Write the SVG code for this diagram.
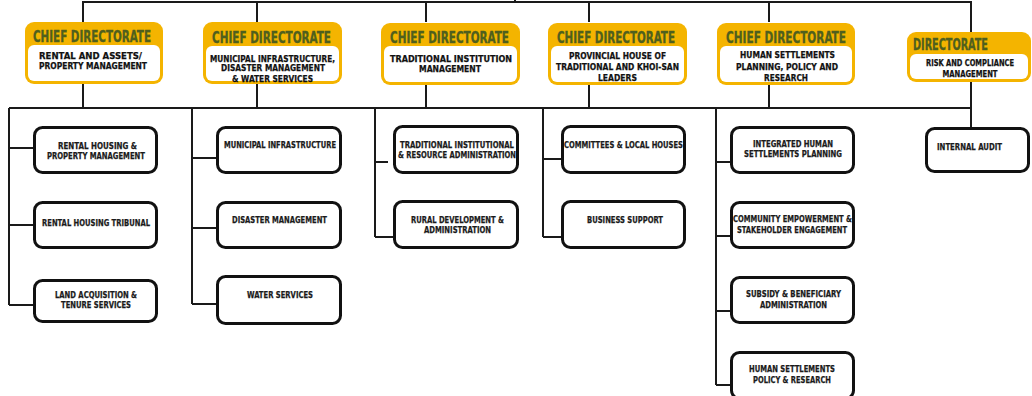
<svg xmlns="http://www.w3.org/2000/svg" width="1032" height="396" viewBox="0 0 1032 396">
<style>
.conn{fill:none;stroke:#1a1a1a;stroke-width:2}
.hy{fill:#f4b400}
.hw{fill:#ffffff}
.box{fill:#ffffff;stroke:#111;stroke-width:3}
text{font-family:"Liberation Sans Narrow","DejaVu Sans Condensed","Liberation Sans",sans-serif;font-weight:bold;text-anchor:middle}
.t{font-size:15px;fill:#4f5f1e;stroke:#4f5f1e;stroke-width:0.3}
.s{font-size:9.5px;fill:#111;stroke:#111;stroke-width:0.25}
.c{font-size:9.5px;fill:#1a1a1a;stroke:#1a1a1a;stroke-width:0.25}
</style>
<rect width="1032" height="396" fill="#ffffff"/>
<g id="connectors">
<path class="conn" d="M83,22 V2 H971 V32 M515,0 V2 M257,2 V22 M426,2 V22 M589,2 V22 M769,2 V22"/>
<path class="conn" d="M83,84 V108 M257,84 V108 M426,84 V108 M589,84 V108 M769,84 V108 M971,82 V127 M9,108 H971"/>
<path class="conn" d="M9,108 V305 M9,148 H33 M9,225 H33 M9,305 H33"/>
<path class="conn" d="M192,108 V304 M192,158 H216 M192,228 H216 M192,304 H216"/>
<path class="conn" d="M375,108 V237 M375,162 H388 M375,237 H393"/>
<path class="conn" d="M543,108 V237 M543,159 H561 M543,237 H561"/>
<path class="conn" d="M716,108 V385 M716,162 H730 M716,236 H730 M716,311 H730 M716,385 H730"/>
</g>
<g id="cd1">
<rect class="hy" x="25" y="22" width="138" height="62" rx="9"/>
<rect class="hw" x="28" y="45" width="132" height="36" rx="6"/>
<text class="t" x="92" y="42" textLength="118" lengthAdjust="spacingAndGlyphs">CHIEF DIRECTORATE</text>
<text class="s" x="90.5" y="59" textLength="103" lengthAdjust="spacingAndGlyphs">RENTAL AND ASSETS/</text>
<text class="s" x="93" y="69" textLength="108" lengthAdjust="spacingAndGlyphs">PROPERTY MANAGEMENT</text>
</g>
<g id="cd2">
<rect class="hy" x="203" y="22" width="139" height="62" rx="9"/>
<rect class="hw" x="206" y="46" width="133" height="35" rx="6"/>
<text class="t" x="271.5" y="42.5" textLength="119" lengthAdjust="spacingAndGlyphs">CHIEF DIRECTORATE</text>
<text class="s" x="272.5" y="61.5" textLength="125" lengthAdjust="spacingAndGlyphs">MUNICIPAL INFRASTRUCTURE,</text>
<text class="s" x="273" y="71" textLength="104" lengthAdjust="spacingAndGlyphs">DISASTER MANAGEMENT</text>
<text class="s" x="272.5" y="81.5" textLength="81" lengthAdjust="spacingAndGlyphs">&amp; WATER SERVICES</text>
</g>
<g id="cd3">
<rect class="hy" x="381" y="23" width="139" height="62" rx="9"/>
<rect class="hw" x="384" y="46" width="133" height="36" rx="6"/>
<text class="t" x="449.5" y="42.5" textLength="119" lengthAdjust="spacingAndGlyphs">CHIEF DIRECTORATE</text>
<text class="s" x="451" y="62" textLength="122" lengthAdjust="spacingAndGlyphs">TRADITIONAL INSTITUTION</text>
<text class="s" x="450" y="72" textLength="62" lengthAdjust="spacingAndGlyphs">MANAGEMENT</text>
</g>
<g id="cd4">
<rect class="hy" x="548" y="23" width="139" height="62" rx="9"/>
<rect class="hw" x="551" y="46" width="133" height="36" rx="6"/>
<text class="t" x="616" y="42.5" textLength="118" lengthAdjust="spacingAndGlyphs">CHIEF DIRECTORATE</text>
<text class="s" x="617.5" y="59" textLength="97" lengthAdjust="spacingAndGlyphs">PROVINCIAL HOUSE OF</text>
<text class="s" x="617.5" y="70" textLength="123" lengthAdjust="spacingAndGlyphs">TRADITIONAL AND KHOI-SAN</text>
<text class="s" x="617.5" y="81" textLength="39" lengthAdjust="spacingAndGlyphs">LEADERS</text>
</g>
<g id="cd5">
<rect class="hy" x="717" y="23" width="138" height="62" rx="9"/>
<rect class="hw" x="720" y="46" width="132" height="36" rx="6"/>
<text class="t" x="786" y="42.5" textLength="120" lengthAdjust="spacingAndGlyphs">CHIEF DIRECTORATE</text>
<text class="s" x="787.5" y="58" textLength="95" lengthAdjust="spacingAndGlyphs">HUMAN SETTLEMENTS</text>
<text class="s" x="787" y="69.5" textLength="102" lengthAdjust="spacingAndGlyphs">PLANNING, POLICY AND</text>
<text class="s" x="786" y="81" textLength="44" lengthAdjust="spacingAndGlyphs">RESEARCH</text>
</g>
<g id="dir">
<rect class="hy" x="907" y="32" width="124" height="50" rx="9"/>
<rect class="hw" x="910" y="54" width="118" height="25" rx="6"/>
<text class="t" x="913" y="50" textLength="75" lengthAdjust="spacingAndGlyphs" style="text-anchor:start">DIRECTORATE</text>
<text class="s" x="970" y="66" textLength="88" lengthAdjust="spacingAndGlyphs" style="font-size:8.8px">RISK AND COMPLIANCE</text>
<text class="s" x="970" y="77" textLength="55" lengthAdjust="spacingAndGlyphs">MANAGEMENT</text>
</g>
<g id="c1b1"><rect class="box" x="34.5" y="127.5" width="122" height="45" rx="8"/>
<text class="c" x="97.5" y="149" textLength="79" lengthAdjust="spacingAndGlyphs">RENTAL HOUSING &amp;</text>
<text class="c" x="96" y="159" textLength="98" lengthAdjust="spacingAndGlyphs">PROPERTY MANAGEMENT</text></g>
<g id="c1b2"><rect class="box" x="34.5" y="202.5" width="122" height="45" rx="8"/>
<text class="c" x="96" y="226" textLength="108" lengthAdjust="spacingAndGlyphs">RENTAL HOUSING TRIBUNAL</text></g>
<g id="c1b3"><rect class="box" x="34.5" y="280.5" width="122" height="41" rx="8"/>
<text class="c" x="96" y="298" textLength="82" lengthAdjust="spacingAndGlyphs">LAND ACQUISITION &amp;</text>
<text class="c" x="96" y="308" textLength="70" lengthAdjust="spacingAndGlyphs">TENURE SERVICES</text></g>
<g id="c2b1"><rect class="box" x="217.5" y="127.5" width="123" height="45" rx="8"/>
<text class="c" x="280" y="148" textLength="112" lengthAdjust="spacingAndGlyphs">MUNICIPAL INFRASTRUCTURE</text></g>
<g id="c2b2"><rect class="box" x="217.5" y="202.5" width="123" height="45" rx="8"/>
<text class="c" x="279.5" y="223" textLength="95" lengthAdjust="spacingAndGlyphs">DISASTER MANAGEMENT</text></g>
<g id="c2b3"><rect class="box" x="217.5" y="276.5" width="123" height="47" rx="8"/>
<text class="c" x="280" y="298" textLength="66" lengthAdjust="spacingAndGlyphs">WATER SERVICES</text></g>
<g id="c3b1"><rect class="box" x="394.5" y="126.5" width="123" height="46" rx="8"/>
<text class="c" x="457" y="148" textLength="114" lengthAdjust="spacingAndGlyphs">TRADITIONAL INSTITUTIONAL</text>
<text class="c" x="457" y="158" textLength="118" lengthAdjust="spacingAndGlyphs">&amp; RESOURCE ADMINISTRATION</text></g>
<g id="c3b2"><rect class="box" x="394.5" y="201.5" width="123" height="46" rx="8"/>
<text class="c" x="457.5" y="223" textLength="93" lengthAdjust="spacingAndGlyphs">RURAL DEVELOPMENT &amp;</text>
<text class="c" x="457.5" y="233" textLength="67" lengthAdjust="spacingAndGlyphs">ADMINISTRATION</text></g>
<g id="c4b1"><rect class="box" x="562.5" y="126.5" width="122" height="46" rx="8"/>
<text class="c" x="623.5" y="148" textLength="119" lengthAdjust="spacingAndGlyphs">COMMITTEES &amp; LOCAL HOUSES</text></g>
<g id="c4b2"><rect class="box" x="562.5" y="201.5" width="122" height="46" rx="8"/>
<text class="c" x="625" y="223" textLength="76" lengthAdjust="spacingAndGlyphs">BUSINESS SUPPORT</text></g>
<g id="c5b1"><rect class="box" x="731.5" y="127.5" width="122" height="45" rx="8"/>
<text class="c" x="793" y="147" textLength="80" lengthAdjust="spacingAndGlyphs">INTEGRATED HUMAN</text>
<text class="c" x="793" y="157" textLength="98" lengthAdjust="spacingAndGlyphs">SETTLEMENTS PLANNING</text></g>
<g id="c5b2"><rect class="box" x="731.5" y="202.5" width="122" height="45" rx="8"/>
<text class="c" x="792.5" y="222" textLength="119" lengthAdjust="spacingAndGlyphs">COMMUNITY EMPOWERMENT &amp;</text>
<text class="c" x="792" y="233" textLength="110" lengthAdjust="spacingAndGlyphs">STAKEHOLDER ENGAGEMENT</text></g>
<g id="c5b3"><rect class="box" x="731.5" y="277.5" width="122" height="45" rx="8"/>
<text class="c" x="793.5" y="297" textLength="95" lengthAdjust="spacingAndGlyphs">SUBSIDY &amp; BENEFICIARY</text>
<text class="c" x="793.5" y="308" textLength="67" lengthAdjust="spacingAndGlyphs">ADMINISTRATION</text></g>
<g id="c5b4"><rect class="box" x="731.5" y="352.5" width="122" height="46" rx="8"/>
<text class="c" x="792" y="372" textLength="86" lengthAdjust="spacingAndGlyphs">HUMAN SETTLEMENTS</text>
<text class="c" x="792" y="383" textLength="78" lengthAdjust="spacingAndGlyphs">POLICY &amp; RESEARCH</text></g>
<g id="ia"><rect class="box" x="926.5" y="128.5" width="102" height="43" rx="8"/>
<text class="c" x="969.5" y="150" textLength="65" lengthAdjust="spacingAndGlyphs">INTERNAL AUDIT</text></g>
</svg>
